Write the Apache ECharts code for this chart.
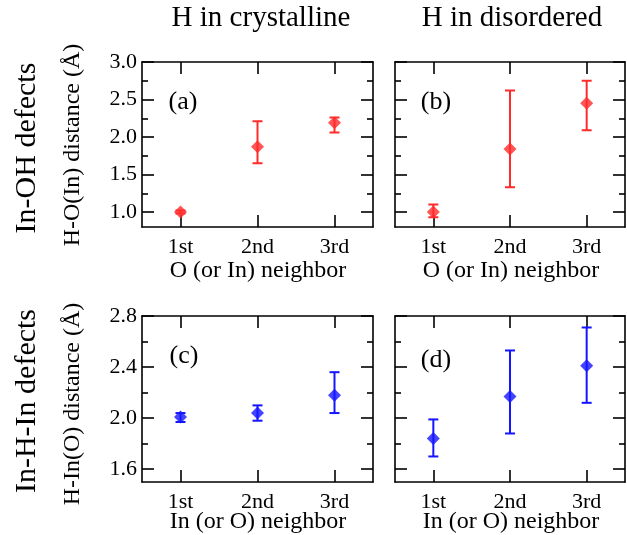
<!DOCTYPE html>
<html>
<head>
<meta charset="utf-8">
<script src="https://cdn.jsdelivr.net/npm/echarts@6/dist/echarts.min.js"></script>
<style>
  html, body { margin: 0; padding: 0; background: #fff; }
  #chart { width: 627px; height: 535px; }
</style>
</head>
<body>
<div id="chart"></div>
<script>
  // neighbour shells
  const categories = ['1st', '2nd', '3rd'];

  // (a) In-OH, H in crystalline
  const aMean = [1.00, 1.87, 2.19];
  const aLow = [0.98, 1.65, 2.06];
  const aHigh = [1.02, 2.21, 2.26];
  // (b) In-OH, H in disordered
  const bMean = [1.00, 1.84, 2.45];
  const bLow = [0.93, 1.33, 2.09];
  const bHigh = [1.10, 2.62, 2.75];
  // (c) In-H-In, H in crystalline
  const cMean = [2.01, 2.04, 2.18];
  const cLow = [1.97, 1.98, 2.04];
  const cHigh = [2.04, 2.10, 2.36];
  // (d) In-H-In, H in disordered
  const dMean = [1.84, 2.17, 2.41];
  const dLow = [1.70, 1.88, 2.12];
  const dHigh = [1.99, 2.53, 2.71];

  // y tick labels / ticks
  const topLabels = [1.0, 1.5, 2.0, 2.5, 3.0];
  const topMinor = [1.25, 1.75, 2.25, 2.75];
  const botLabels = [1.6, 2.0, 2.4, 2.8];
  const botMinor = [1.8, 2.2, 2.6];

  const FONT = 'Liberation Serif';
  const RED = '#ff2a2a', BLUE = '#1515ff';

  const panels = [
    {grid: {left: 142, top: 62, width: 231, height: 165}, ymin: 0.8, ymax: 3.0, major: topLabels, minor: topMinor, mean: aMean, low: aLow, high: aHigh, color: RED, labels: true},
    {grid: {left: 395, top: 62, width: 230, height: 165}, ymin: 0.8, ymax: 3.0, major: topLabels, minor: topMinor, mean: bMean, low: bLow, high: bHigh, color: RED, labels: false},
    {grid: {left: 142, top: 316, width: 231, height: 166}, ymin: 1.5, ymax: 2.8, major: botLabels, minor: botMinor, mean: cMean, low: cLow, high: cHigh, color: BLUE, labels: true},
    {grid: {left: 395, top: 316, width: 230, height: 166}, ymin: 1.5, ymax: 2.8, major: botLabels, minor: botMinor, mean: dMean, low: dLow, high: dHigh, color: BLUE, labels: false}
  ];

  const line = {show: true, lineStyle: {color: '#000', width: 1.6}};
  const grids = [], xAxes = [], yAxes = [], series = [];

  panels.forEach(function (p, i) {
    grids.push(p.grid);
    ['bottom', 'top'].forEach(function (pos) {
      xAxes.push({
        type: 'value', gridIndex: i, position: pos, min: 0.5, max: 3.5,
        axisLine: line,
        axisTick: {show: true, inside: true, length: 12, customValues: [1, 2, 3], lineStyle: {color: '#000', width: 1.6}},
        axisLabel: {
          show: pos === 'bottom', customValues: [1, 2, 3], margin: 9,
          color: '#000', fontFamily: FONT, fontSize: 22,
          formatter: function (v) { return categories[Math.round(v) - 1]; }
        },
        splitLine: {show: false}
      });
    });
    ['left', 'right'].forEach(function (pos) {
      // major ticks (with labels on the left)
      yAxes.push({
        type: 'value', gridIndex: i, position: pos, min: p.ymin, max: p.ymax,
        axisLine: line,
        axisTick: {show: true, inside: true, length: 12, customValues: p.major, lineStyle: {color: '#000', width: 1.6}},
        axisLabel: {
          show: pos === 'left' && p.labels, customValues: p.major, margin: 5,
          color: '#000', fontFamily: FONT, fontSize: 22,
          formatter: function (v) { return v.toFixed(1); }
        },
        splitLine: {show: false}
      });
      // minor ticks
      yAxes.push({
        type: 'value', gridIndex: i, position: pos, min: p.ymin, max: p.ymax,
        axisLine: {show: false},
        axisTick: {show: true, inside: true, length: 6, customValues: p.minor, lineStyle: {color: '#000', width: 1.6}},
        axisLabel: {show: false},
        splitLine: {show: false}
      });
    });

    const errData = [], ptData = [];
    for (let k = 0; k < categories.length; k++) {
      errData.push([k + 1, p.low[k], p.high[k]]);
      ptData.push([k + 1, p.mean[k]]);
    }
    const col = p.color;
    series.push({
      type: 'custom', xAxisIndex: 2 * i, yAxisIndex: 4 * i, z: 2,
      encode: {x: 0, y: [1, 2]},
      data: errData,
      renderItem: function (params, api) {
        const x = api.value(0);
        const top = api.coord([x, api.value(2)]);
        const bot = api.coord([x, api.value(1)]);
        const w = 5;
        const st = {stroke: col, lineWidth: 2};
        return {
          type: 'group',
          children: [
            {type: 'line', shape: {x1: top[0], y1: top[1], x2: bot[0], y2: bot[1]}, style: st},
            {type: 'line', shape: {x1: top[0] - w, y1: top[1], x2: top[0] + w, y2: top[1]}, style: st},
            {type: 'line', shape: {x1: bot[0] - w, y1: bot[1], x2: bot[0] + w, y2: bot[1]}, style: st}
          ]
        };
      }
    });
    series.push({
      type: 'scatter', xAxisIndex: 2 * i, yAxisIndex: 4 * i, z: 3,
      symbol: 'diamond', symbolSize: [13, 13],
      itemStyle: {color: col},
      data: ptData
    });
  });

  function txt(text, x, y, size, rot) {
    return {
      type: 'text', x: x, y: y, rotation: rot || 0,
      style: {text: text, fontFamily: FONT, fontSize: size, fill: '#000', align: 'center', verticalAlign: 'middle'}
    };
  }

  const graphics = [
    txt('H in crystalline', 261, 18, 29),
    txt('H in disordered', 512, 18, 29),
    txt('In-OH defects', 27, 148, 30, Math.PI / 2),
    txt('In-H-In defects', 27, 401, 30, Math.PI / 2),
    txt('H-O(In) distance (Å)', 73, 145, 24, Math.PI / 2),
    txt('H-In(O) distance (Å)', 73, 404, 24, Math.PI / 2),
    txt('O (or In) neighbor', 258, 271, 24),
    txt('O (or In) neighbor', 511, 271, 24),
    txt('In (or O) neighbor', 258, 522, 24),
    txt('In (or O) neighbor', 511, 522, 24),
    txt('(a)', 183, 102, 26),
    txt('(b)', 436, 102, 26),
    txt('(c)', 184, 356, 26),
    txt('(d)', 436, 360, 26)
  ];

  const chart = echarts.init(document.getElementById('chart'));
  chart.setOption({
    animation: false,
    backgroundColor: '#fff',
    grid: grids,
    xAxis: xAxes,
    yAxis: yAxes,
    series: series,
    graphic: graphics
  });
</script>
</body>
</html>
